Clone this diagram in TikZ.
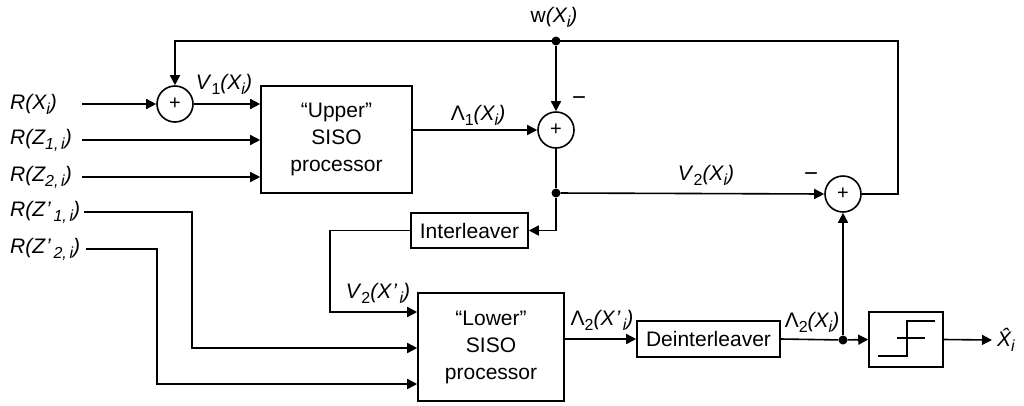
\documentclass[tikz,border=0pt]{standalone}
\usepackage{fontspec}
\setmainfont{Liberation Sans}
\usetikzlibrary{arrows.meta}
\newcommand\mysub[1]{\raisebox{-0.45ex}{\fontsize{16}{16}\selectfont #1}}
\tikzset{
  line/.style={line width=1.6pt},
  arr/.style={line width=1.6pt, -{Triangle[length=10pt,width=10pt]}},
  sumnode/.style={circle, draw, line width=1.6pt, minimum size=36pt, inner sep=0pt, font=\fontsize{20}{20}\selectfont},
  blk/.style={draw, line width=1.6pt, inner sep=0pt, align=center, font=\fontsize{21}{27}\selectfont},
  dot/.style={circle, fill, minimum size=9pt, inner sep=0pt},
  lab/.style={font=\fontsize{21}{26}\selectfont, inner sep=0pt},
  sgn/.style={font=\fontsize{24}{24}\selectfont, inner sep=0pt},
}
\begin{document}
\begin{tikzpicture}[x=1pt,y=-1pt]
\useasboundingbox (0,0) rectangle (1024,405);
% summing junctions
\node[sumnode] (s1) at (175,104) {+};
\node[sumnode] (s2) at (556,130) {+};
\node[sumnode] (s3) at (843,194) {+};
% blocks
\node[blk, minimum width=151pt, minimum height=107pt] (up) at (336.5,139.5) {“Upper”\\SISO\\processor};
\node[blk, minimum width=117pt, minimum height=35pt] (il) at (469.5,230.5) {Interleaver};
\node[blk, minimum width=146pt, minimum height=108pt] (lo) at (491,347) {“Lower”\\SISO\\processor};
\node[blk, minimum width=143pt, minimum height=36pt] (de) at (708.5,339) {Deinterleaver};
\node[blk, minimum width=74pt, minimum height=55pt] (sl) at (906,339.5) {};
\draw[line width=1.2pt] ([shift={(-28,16.5)}]sl.center) -- ++(29,0) -- ++(0,-35) -- ++(28,0);
\draw[line width=1.2pt] ([shift={(-9,-1.5)}]sl.center) -- ++(28,0);
% dots
\node[dot] (dw) at (556,41) {};
\node[dot] (d2) at (556,193) {};
\node[dot] (d3) at (843,340) {};
% coordinates
\coordinate (inRX) at (82,104);
\coordinate (inZ1) at (82,140);
\coordinate (inZ2) at (82,177);
\coordinate (inZp1) at (84,212);
\coordinate (inZp2) at (86,249);
\coordinate (k1) at (192,348);
\coordinate (k2) at (157,384);
\coordinate (tr) at (898,41);
\coordinate (v2c) at (330,312);
\coordinate (outX) at (992,340);
% input labels
\node[lab, anchor=west] (lRX) at (10,104) {\textit{R(X\mysub{i})}};
\node[lab, anchor=west] (lZ1) at (10,140) {\textit{R(Z\mysub{1,\,i})}};
\node[lab, anchor=west] (lZ2) at (10,177) {\textit{R(Z\mysub{2,\,i})}};
\node[lab, anchor=west] (lZp1) at (10,212) {\textit{R(Z\kern1pt’\mysub{\,1,\,i})}};
\node[lab, anchor=west] (lZp2) at (10,249) {\textit{R(Z\kern1pt’\mysub{\,2,\,i})}};
% connectors
\draw[arr] (inRX) -- (s1.west);
\draw[arr] (s1.east) -- (s1.east -| up.west);
\draw[arr] (inZ1) -- (inZ1 -| up.west);
\draw[arr] (inZ2) -- (inZ2 -| up.west);
\draw[arr] (up.east |- s2) -- (s2.west);
\draw[arr] (s3.east) -| (tr) -| (s1.north);
\draw[arr] (dw) -- (s2.north);
\draw[line] (s2.south) -- (d2);
\draw[arr] (d2) -- (s3.west);
\draw[arr] (d2) |- (il.east);
\draw[arr] (il.west) -| (v2c) -- (v2c -| lo.west);
\draw[arr] (inZp1) -| (k1) -- (k1 -| lo.west);
\draw[arr] (inZp2) -| (k2) -- (k2 -| lo.west);
\draw[arr] (lo.east |- de) -- (de.west);
\draw[line] (de.east) -- (d3);
\draw[arr] (d3) -- (s3.south);
\draw[arr] (d3) -- (sl.west);
\draw[arr] (sl.east) -- (outX);
% signal labels
\node[lab] (lV1) at (224,84) {\textit{V}\mysub{1}\textit{(X\mysub{i})}};
\node[lab] (lw) at (554,17) {w\textit{(X\mysub{i})}};
\node[lab] (lL1) at (478,115) {Λ\mysub{1}\textit{(X\mysub{i})}};
\node[sgn] (m2) at (579,101) {−};
\node[lab] (lV2) at (706,175) {\textit{V}\mysub{2}\textit{(X\mysub{i})}};
\node[sgn] (m3) at (811,177) {−};
\node[lab] (lV2p) at (378,293) {\textit{V}\mysub{2}\textit{(X\kern1pt’\mysub{\,i})}};
\node[lab] (lL2p) at (602,320) {Λ\mysub{2}\textit{(X\kern1pt’\mysub{\,i})}};
\node[lab] (lL2) at (812,322) {Λ\mysub{2}\textit{(X\mysub{i})}};
\node[lab, anchor=west] (lXh) at (997,340) {\textit{\^{X}\mysub{i}}};
\end{tikzpicture}
\end{document}
